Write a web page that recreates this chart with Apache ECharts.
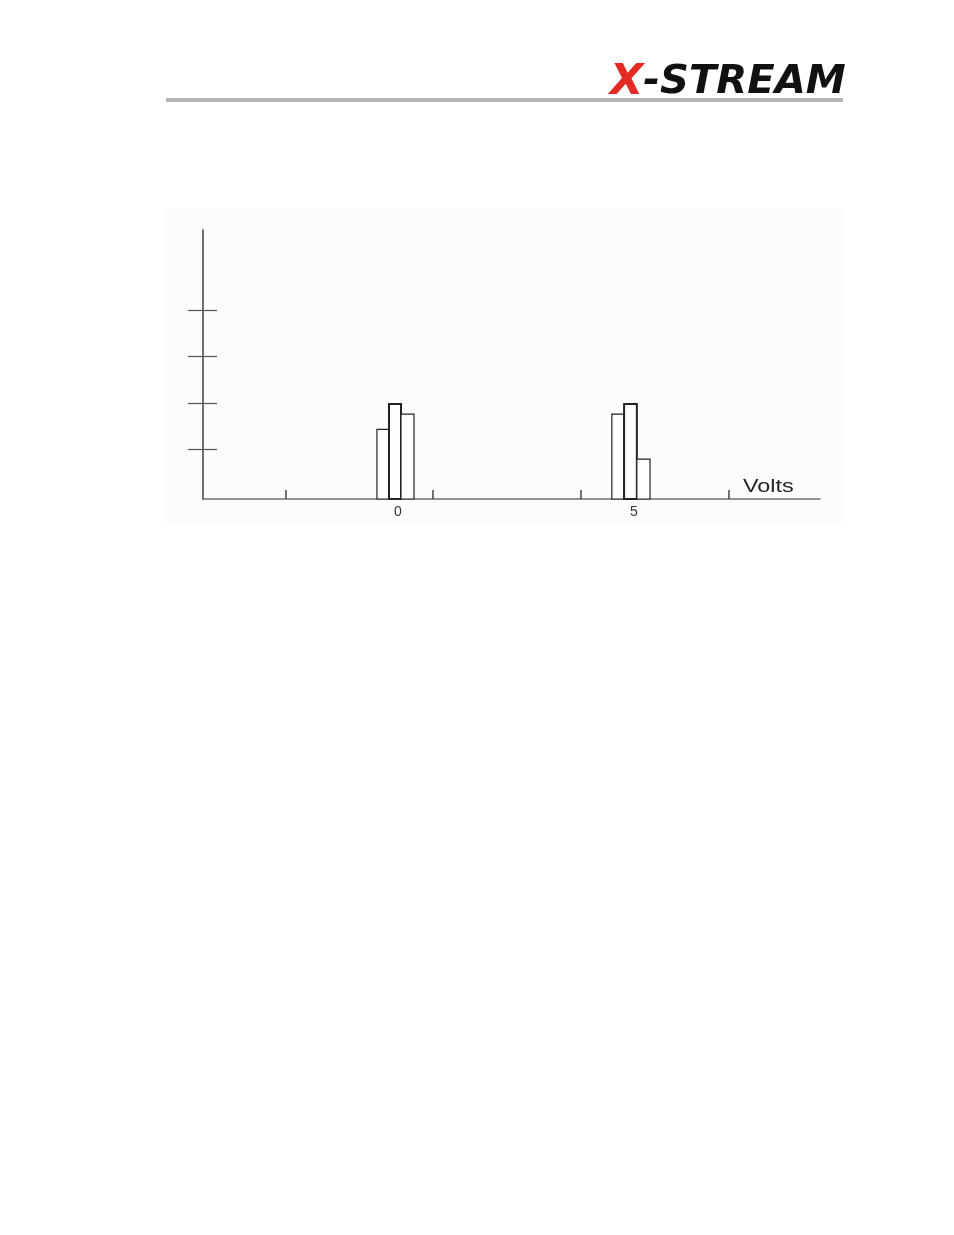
<!DOCTYPE html>
<html>
<head>
<meta charset="utf-8">
<style>
html,body{margin:0;padding:0;background:#fff;}
#c{width:954px;height:1235px;}
</style>
<script src="https://cdn.jsdelivr.net/npm/echarts@6/dist/echarts.min.js"></script>
</head>
<body>
<div id="c"></div>
<script>
// Histogram bins: [bin start (V), bin end (V), height]
const binStarts = [-0.445, -0.19, 0.064, 4.53, 4.79, 5.06];
const binEnds   = [-0.19, 0.064, 0.34, 4.79, 5.06, 5.34];
const binHeights = [1.50, 2.05, 1.83, 1.83, 2.05, 0.86];
// Axis marks
const xTickValues = [-2.37, 0.74, 3.88, 7.01];
const xLabelValues = [0, 5];
const yTickValues = [1.08, 2.07, 3.08, 4.07];
const xUnit = 'Volts';

const bins = binStarts.map((s, i) => [s, binEnds[i], binHeights[i], i]);

const chart = echarts.init(document.getElementById('c'), null, {renderer: 'canvas'});
const axisCommon = {min: 0, max: 5.8, splitLine: {show: false}, axisLabel: {show: false}};
chart.setOption({
  backgroundColor: '#ffffff',
  animation: false,
  grid: {left: 203, right: 134, top: 230, bottom: 736, containLabel: false},
  xAxis: {
    type: 'value', min: -4.13, max: 8.94,
    axisLine: {show: true, onZero: false, lineStyle: {color: '#707070', width: 1.5}},
    axisTick: {show: true, inside: true, length: 9, customValues: xTickValues, lineStyle: {color: '#444', width: 1.5}},
    axisLabel: {show: true, customValues: xLabelValues, color: '#333', fontSize: 14, fontFamily: 'Liberation Sans, Arial, sans-serif', margin: 6},
    splitLine: {show: false}
  },
  yAxis: [
    Object.assign({type: 'value', position: 'left',
      axisLine: {show: true, onZero: false, lineStyle: {color: '#707070', width: 2}},
      axisTick: {show: true, inside: false, length: 15, customValues: yTickValues, lineStyle: {color: '#555', width: 1.2}}
    }, axisCommon),
    Object.assign({type: 'value', position: 'left', offset: 0,
      axisLine: {show: false, onZero: false},
      axisTick: {show: true, inside: true, length: 14, customValues: yTickValues, lineStyle: {color: '#555', width: 1.2}}
    }, axisCommon)
  ],
  graphic: [
    {type: 'rect', z: -10, shape: {x: 166, y: 208, width: 677, height: 315}, style: {fill: '#fcfcfc'}},
    {type: 'rect', z: 1, shape: {x: 166, y: 98, width: 677, height: 4}, style: {fill: '#b4b4b4'}},
    {type: 'text', z: 2, x: 610, y: 62, scaleX: 1.03, style: {
      text: '{x|X}{r|-STREAM}',
      rich: {
        x: {fill: '#e42a22', fontSize: 42, fontWeight: 900, fontStyle: 'italic', fontFamily: 'DejaVu Sans, sans-serif'},
        r: {fill: '#111', fontSize: 39, fontWeight: 900, fontStyle: 'italic', fontFamily: 'DejaVu Sans, sans-serif'}
      }
    }},
    {type: 'text', z: 5, x: 743, y: 478, scaleX: 1.3, style: {text: xUnit, fill: '#222', fontSize: 18, fontFamily: 'Liberation Sans, Arial, sans-serif'}}
  ],
  series: [{
    type: 'custom',
    coordinateSystem: 'cartesian2d',
    xAxisIndex: 0, yAxisIndex: 0,
    data: bins,
    encode: {x: [0, 1], y: 2},
    renderItem: function (params, api) {
      const p0 = api.coord([api.value(0), api.value(2)]);
      const p1 = api.coord([api.value(1), 0]);
      const mid = api.value(3) % 3 === 1;
      return {
        type: 'rect',
        shape: {x: p0[0], y: p0[1], width: p1[0] - p0[0], height: p1[1] - p0[1]},
        style: {fill: '#ffffff', stroke: '#222', lineWidth: mid ? 2 : 1.2}
      };
    }
  }]
});
</script>
</body>
</html>
